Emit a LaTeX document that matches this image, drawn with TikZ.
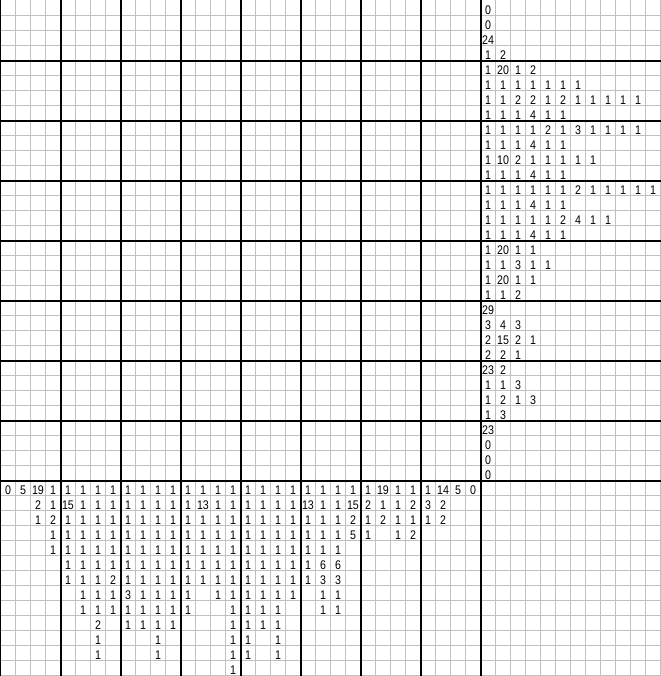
\documentclass[tikz,border=0pt]{standalone}
\usepackage{fontspec}
\setmainfont{Liberation Sans}
\definecolor{gridgrey}{RGB}{192,192,192}
\tikzset{
  thinline/.style={draw=gridgrey, line width=0.75pt},
  thickline/.style={draw=black, line width=1.5pt},
  clue/.style={inner sep=0pt, anchor=base, font=\fontsize{9.4}{10}\selectfont, xscale=0.85}
}
\begin{document}
\begin{tikzpicture}[x=0.75pt,y=-0.75pt]
\useasboundingbox (0,0) rectangle (661,676);
\fill[white] (0,0) rectangle (661,676);
% thin grid
\foreach \k in {1,...,44} {
  \draw[thinline] (\k*15+0.5,0) -- (\k*15+0.5,676);
}
\foreach \k in {1,...,45} {
  \draw[thinline] (0,\k*15+0.5) -- (661,\k*15+0.5);
}
% thick lines
\draw[thickline] (0,0) -- (0,676);
\foreach \k in {1,...,8} {
  \draw[thickline] (\k*60+1,0) -- (\k*60+1,676);
  \draw[thickline] (0,\k*60+1) -- (661,\k*60+1);
}
% row clues
\foreach \clue [count=\r] in {
 {0},{0},{24},{1,2},
 {1,20,1,2},{1,1,1,1,1,1,1},{1,1,2,2,1,2,1,1,1,1,1},{1,1,1,4,1,1},
 {1,1,1,1,2,1,3,1,1,1,1},{1,1,1,4,1,1},{1,10,2,1,1,1,1,1},{1,1,1,4,1,1},
 {1,1,1,1,1,1,2,1,1,1,1,1},{1,1,1,4,1,1},{1,1,1,1,1,2,4,1,1},{1,1,1,4,1,1},
 {1,20,1,1},{1,1,3,1,1},{1,20,1,1},{1,1,2},
 {29},{3,4,3},{2,15,2,1},{2,2,1},
 {23,2},{1,1,3},{1,2,1,3},{1,3},
 {23},{0},{0},{0}} {
  \foreach \v [count=\c] in \clue {
    \node[clue] (r\r-\c) at (480+15*\c-7, 15*\r-1) {\v};
  }
}
% column clues
\foreach \clue [count=\c] in {
 {0},{5},{19,2,1},{1,1,2,1,1},
 {1,15,1,1,1,1,1},{1,1,1,1,1,1,1,1,1},{1,1,1,1,1,1,1,1,1,2,1,1},{1,1,1,1,1,1,2,1,1},
 {1,1,1,1,1,1,1,3,1,1},{1,1,1,1,1,1,1,1,1,1},{1,1,1,1,1,1,1,1,1,1,1,1},{1,1,1,1,1,1,1,1,1,1},
 {1,1,1,1,1,1,1,1,1},{1,13,1,1,1,1,1},{1,1,1,1,1,1,1,1},{1,1,1,1,1,1,1,1,1,1,1,1,1},
 {1,1,1,1,1,1,1,1,1,1,1,1},{1,1,1,1,1,1,1,1,1,1},{1,1,1,1,1,1,1,1,1,1,1,1},{1,1,1,1,1,1,1,1},
 {1,13,1,1,1,1,1},{1,1,1,1,1,6,3,1,1},{1,1,1,1,1,6,3,1,1},{1,15,2,5},
 {1,2,1,1},{19,1,2},{1,1,1,1},{1,2,1,2},
 {1,3,1},{14,2,2},{5},{0}} {
  \foreach \v [count=\j] in \clue {
    \node[clue] (c\c-\j) at (15*\c-7, 480+15*\j-1) {\v};
  }
}
\end{tikzpicture}
\end{document}
